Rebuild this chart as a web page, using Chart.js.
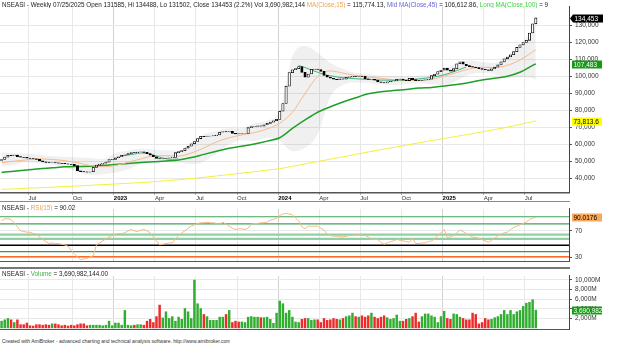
<!DOCTYPE html>
<html>
<head>
<meta charset="utf-8">
<title>NSEASI Weekly</title>
<script src="https://cdn.jsdelivr.net/npm/chart.js@4.4.1/dist/chart.umd.min.js"></script>
<style>
  body { margin: 0; background: #fff; width: 641px; height: 352px; overflow: hidden; position: relative;
         font-family: "Liberation Sans", Arial, sans-serif; }
  canvas { position: absolute; left: 0; }
  .ttl { position: absolute; left: 2px; font-size: 6.3px; line-height: 7px; color: #222; white-space: nowrap; overflow: hidden; }
  .rule { position: absolute; left: 0; width: 570px; height: 1px; background: #8a8a8a; }
</style>
</head>
<body>
<canvas id="priceChart" width="641" height="202" style="top:0"></canvas>
<canvas id="rsiChart" width="641" height="66" style="top:202px"></canvas>
<canvas id="volumeChart" width="641" height="67" style="top:269px"></canvas>

<div class="rule" style="top:201px"></div>
<div class="rule" style="top:267px;height:2px;background:#777"></div>

<div class="ttl" style="top:1px;width:565px">NSEASI - Weekly 07/25/2025 Open 131585, Hi 134488, Lo 131502, Close 134453 (2.2%) Vol 3,690,982,144 <span style="color:#f0a050">MA(Close,15)</span> = 115,774.13, <span style="color:#6464e0">Mid MA(Close,45)</span> = 106,612.86, <span style="color:#44d044">Long MA(Close,100)</span> = 9</div>
<div class="ttl" style="top:203.5px">NSEASI - <span style="color:#f0a050">RSI(15)</span> = 90.02</div>
<div class="ttl" style="top:270px">NSEASI - <span style="color:#3cb043">Volume</span> = 3,690,982,144.00</div>
<div class="ttl" style="top:337.5px;font-size:5px;color:#333">Created with AmiBroker - advanced charting and technical analysis software. http://www.amibroker.com</div>

<script>
// ---- data (weekly bars, 29 Apr 2022 .. 25 Jul 2025) ----
const quarterWeeks = [9, 23, 36, 49, 62, 75, 88, 101, 114, 127, 140, 153, 166];
const quarterLabels = ['Jul', 'Oct', '2023', 'Apr', 'Jul', 'Oct', '2024', 'Apr', 'Jul', 'Oct', '2025', 'Apr', 'Jul'];
const priceTicks = [40000, 50000, 60000, 70000, 80000, 90000, 100000, 110000, 120000, 130000];
const rsiTicks = [70, 30];
const volumeTicks = [2000, 4000, 6000, 8000, 10000];

const firstOpen = 50600;
const closes = [
  51200, 52600, 53600, 53400, 53800, 52900, 52500, 52400, 52000, 51800,
  51600, 51300, 50400, 49800, 49400, 49300, 49400, 49200, 49000, 48900,
  48700, 48400, 48300, 47600, 44500, 44100, 43900, 43800, 44000, 46600,
  47900, 48500, 49000, 49600, 51100, 51300, 52200, 52800, 53600, 54000,
  54600, 55300, 55200, 55600, 55700, 55400, 54600, 53800, 52800, 51800,
  51500, 51800, 52000, 52200, 52400, 55200, 55800, 56400, 57900, 59000,
  60400, 61800, 63500, 64800, 64600, 64900, 65000, 65200, 65600, 67200,
  67600, 67400, 67800, 66600, 66300, 66200, 66400, 66500, 69900, 70500,
  70600, 71000, 70800, 71600, 72400, 73200, 74000, 74800, 79600, 84100,
  94300, 102300, 104000, 104600, 105800, 102400, 99600, 101500, 104200, 104400,
  104100, 103000, 100700, 99600, 99000, 98500, 98200, 98600, 98400, 99500,
  99800, 100100, 100000, 100300, 100100, 98600, 98300, 98400, 97900, 96800,
  96500, 96200, 96900, 97200, 97400, 98300, 98500, 97800, 97600, 98900,
  98200, 97600, 97500, 97800, 98000, 98400, 100500, 101400, 102900, 103800,
  104900, 103800, 103200, 104600, 107500, 108600, 107200, 106400, 105800, 105500,
  105200, 104600, 104200, 104000, 103600, 104500, 105500, 106800, 108600, 110400,
  111500, 112800, 114600, 117100, 118600, 120000, 121300, 125600, 131000, 134453
];

// smooth overlays, read every 4 weeks
const lineWeeks = [0, 4, 8, 12, 16, 20, 24, 28, 32, 36, 40, 44, 48, 52, 56, 60, 64, 68, 72, 76, 80, 84,
  88, 92, 96, 100, 104, 108, 112, 116, 120, 124, 128, 132, 136, 140, 144, 148, 152, 156, 160, 164, 168, 169];
const ma15 = [49300, 50200, 51000, 51600, 51200, 50500, 49300, 47600, 46900, 47600, 49600, 51500, 53200, 53400,
  53200, 55000, 58000, 61500, 64000, 65600, 67000, 69200, 72500, 79000, 90000, 100000, 103300, 102000, 100600,
  99600, 99000, 98000, 97600, 97800, 98400, 100200, 102300, 104500, 105400, 105300, 106600, 109700, 114500, 115774];
const greenMa = [43600, 44300, 45000, 45800, 46300, 46900, 47100, 47200, 47700, 48300, 48800, 49400, 49900, 50300,
  50900, 52300, 54200, 56000, 57800, 59000, 60300, 62000, 64000, 69500, 74500, 79000, 82200, 85000, 87500,
  89800, 91000, 91800, 92400, 93200, 93600, 94400, 95300, 96500, 97900, 99000, 100200, 102500, 106500, 107483];
const yellowMa = [33600, 33900, 34300, 34600, 34900, 35300, 35600, 36000, 36400, 36800, 37200, 37600, 38100, 38700,
  39300, 40000, 40700, 41500, 42300, 43200, 44000, 44900, 45800, 47200, 48600, 50000, 51400, 52800, 54200,
  55600, 57000, 58300, 59600, 61000, 62300, 63600, 64800, 66100, 67400, 68800, 70200, 71800, 73500, 73814];
const bandUpper = [55500, 55000, 54500, 54000, 53200, 52800, 52500, 52000, 51500, 55000, 56500, 57500, 57000, 56500,
  56500, 61000, 66000, 68000, 69500, 69500, 72500, 74000, 80000, 112000, 118000, 114000, 108000, 104500, 102000,
  101500, 100500, 100500, 100000, 100500, 101000, 104000, 108000, 109500, 108500, 108000, 112000, 118000, 128000, 131000];
const bandLower = [47000, 48000, 49500, 49000, 48000, 46500, 44000, 42000, 42500, 43500, 45500, 48500, 50500, 50000,
  49500, 48500, 50000, 55000, 60000, 62500, 62000, 64000, 62000, 56000, 58000, 66000, 88000, 95000, 96500,
  96000, 95500, 95000, 95500, 96000, 95500, 95000, 97500, 101000, 102000, 101500, 99000, 99500, 99000, 98000];

const tealWeeks = [38, 40, 42, 44, 46, 48, 50, 52, 54, 56, 75, 94, 96, 98, 100, 102, 104, 108, 112, 116, 120, 124, 128, 132, 136, 140, 144, 147];
const tealValues = [53200, 53800, 54400, 55000, 54800, 53800, 52600, 51600, 51300, 51500, null, 106500, 105300, 103800,
  102500, 101200, 100400, 99300, 98700, 98300, 97900, 97800, 98000, 98600, 99500, 101000, 103500, 105600];

const rsi = [
  85, 88, 88, 87, 82, 76, 70, 69, 68, 68,
  66, 65, 61, 57, 54, 51, 52, 51, 51, 50,
  49, 47, 41, 36, 31, 27, 28, 29, 31, 33,
  49, 52, 55, 58, 61, 63, 65, 66, 66, 67,
  70, 72, 70, 69, 71, 72, 70, 67, 61, 55,
  49, 50, 51, 52, 52, 58, 63, 67, 70, 74,
  77, 79, 81, 82, 82, 83, 82, 82, 81, 80,
  83, 80, 77, 74, 72, 73, 73, 72, 74, 80,
  81, 81, 82, 82, 83, 86, 87, 89, 93, 95,
  96, 95, 94, 89, 85, 76, 73, 77, 77, 77,
  77, 74, 71, 65, 63, 62, 62, 61, 61, 62,
  63, 63, 64, 64, 63, 63, 61, 57, 57, 57,
  53, 50, 52, 54, 55, 57, 56, 55, 54, 53,
  59, 51, 51, 52, 52, 54, 55, 58, 63, 67,
  72, 60, 61, 63, 67, 71, 69, 66, 63, 61,
  60, 59, 57, 55, 53, 56, 59, 63, 65, 67,
  68, 72, 75, 77, 79, 81, 83, 87, 89, 90.02
];
const rsiLevels = [91, 80.3, 64.4, 58, 48.4, 38.9, 31.2];

// volume in millions of shares
const volumeM = [
  1400, 1680, 1960, 1680, 1120, 1680, 670, 670, 1010, 450,
  390, 670, 670, 560, 670, 560, 840, 840, 670, 450,
  560, 390, 560, 450, 670, 840, 840, 450, 560, 560,
  560, 560, 450, 560, 1400, 450, 1010, 1010, 560, 3640,
  560, 450, 560, 670, 670, 560, 1400, 1790, 1120, 2350,
  4760, 2070, 3360, 1960, 2350, 1400, 2240, 1790, 4030, 3360,
  1960, 9970, 5040, 4030, 2800, 2350, 1570, 1570, 1570, 2240,
  2240, 2800, 3640, 1120, 1400, 1230, 1230, 1120, 2240, 2350,
  2240, 2240, 2130, 2130, 2240, 1790, 950, 3080, 5600, 5040,
  3080, 3640, 2240, 1230, 1120, 1790, 1960, 1960, 1570, 1680,
  1680, 1120, 1960, 1570, 1680, 1960, 1790, 1680, 1960, 2350,
  2520, 3080, 2350, 2240, 2520, 2240, 2520, 3080, 2240, 1960,
  2240, 2520, 2130, 1790, 1960, 2690, 1400, 1400, 1790, 1960,
  2350, 3080, 1230, 2350, 2910, 2910, 2520, 2240, 1120, 2350,
  3470, 1960, 1790, 2910, 2800, 2240, 1960, 1680, 1680, 3080,
  2800, 840, 1120, 1960, 1680, 1790, 2130, 2350, 2800, 3640,
  2800, 3640, 2800, 3360, 3640, 4480, 5150, 5320, 5880, 3691
];

// ---- helpers ----
const FONT = '"Liberation Sans", Arial, sans-serif';
const isYear = i => /^\d{4}$/.test(quarterLabels[i] || '');
const opens = closes.map((c, i) => (i ? closes[i - 1] : firstOpen));
const pts = (weeks, vals) => weeks.map((w, k) => ({ x: w, y: vals[k] }));

function weekAxis(showLabels) {
  return {
    type: 'linear', min: -0.5, max: 179.5, offset: false,
    afterBuildTicks: s => { s.ticks = quarterWeeks.map(w => ({ value: w - 0.5 })); },
    afterFit: s => { s.height = showLabels ? 9.5 : 0; },
    grid: {
      offset: false,
      color: c => (isYear(c.index) ? '#d2d2d2' : '#e8e8e8'),
      drawTicks: showLabels, tickLength: 2, tickColor: '#666'
    },
    border: { display: true, color: '#555', width: showLabels ? 1.5 : 1 },
    ticks: {
      display: showLabels, autoSkip: false, maxRotation: 0, minRotation: 0, align: 'start', padding: 0,
      callback: (v, i) => quarterLabels[i],
      font: c => ({ family: FONT, size: 6, weight: isYear(c.index) ? 'bold' : 'normal' }),
      color: c => (isYear(c.index) ? '#000' : '#333')
    }
  };
}

function valueAxis(min, max, ticks, fmt) {
  return {
    position: 'right', min: min, max: max,
    afterBuildTicks: s => { s.ticks = ticks.map(v => ({ value: v })); },
    afterFit: s => { s.width = 72; },
    grid: { color: '#e8e8e8', tickLength: 3, tickColor: '#555' },
    border: { display: true, color: '#444', width: 1 },
    ticks: { font: { family: FONT, size: 6.5 }, color: '#333', padding: 3, callback: fmt }
  };
}

// value tags on the right axis
const badgePlugin = {
  id: 'badges',
  afterDraw(chart, args, opts) {
    const ctx = chart.ctx, y = chart.scales.y, right = chart.chartArea.right;
    ctx.save();
    ctx.font = '6.5px ' + FONT;
    ctx.textBaseline = 'middle';
    (opts.items || []).forEach(b => {
      const py = Math.round(y.getPixelForValue(b.value)) + 0.5;
      const x0 = right + (b.pointer ? 4 : 3), w = 30, h = 8;
      ctx.fillStyle = b.bg;
      ctx.beginPath();
      if (b.pointer) {
        ctx.moveTo(right + 1, py);
        ctx.lineTo(x0, py - h / 2);
        ctx.lineTo(x0, py + h / 2);
        ctx.closePath();
      }
      ctx.rect(x0, py - h / 2, w, h);
      ctx.fill();
      ctx.fillStyle = b.fg;
      ctx.fillText(b.text, x0 + 1.5, py + 0.5);
    });
    ctx.restore();
  }
};

// horizontal reference levels in the RSI pane
const levelPlugin = {
  id: 'levels',
  beforeDatasetsDraw(chart, args, opts) {
    const ctx = chart.ctx, y = chart.scales.y, a = chart.chartArea;
    ctx.save();
    (opts.levels || []).forEach((v, k) => {
      const st = opts.styles[k];
      const py = y.getPixelForValue(v);
      ctx.strokeStyle = st.color;
      ctx.lineWidth = st.width;
      ctx.beginPath();
      ctx.moveTo(a.left, py);
      ctx.lineTo(a.right, py);
      ctx.stroke();
    });
    ctx.restore();
  }
};

const common = {
  responsive: false, animation: false, events: [],
  layout: { padding: 0 },
  plugins: { legend: { display: false }, tooltip: { enabled: false } }
};

// ---- price pane ----
new Chart(document.getElementById('priceChart'), {
  type: 'bar',
  data: {
    datasets: [
      {
        type: 'line', data: pts(lineWeeks, bandUpper), borderWidth: 0, pointRadius: 0,
        fill: '+1', backgroundColor: 'rgba(0,0,0,0.06)', cubicInterpolationMode: 'monotone', order: 10
      },
      {
        type: 'line', data: pts(lineWeeks, bandLower), borderWidth: 0, pointRadius: 0,
        fill: false, cubicInterpolationMode: 'monotone', order: 10
      },
      {
        type: 'line', data: pts(lineWeeks, yellowMa), borderColor: '#f2f03c', borderWidth: 1,
        pointRadius: 0, cubicInterpolationMode: 'monotone', order: 5
      },
      {
        type: 'line', data: pts(lineWeeks, greenMa), borderColor: '#1f9e2a', borderWidth: 1.5,
        pointRadius: 0, cubicInterpolationMode: 'monotone', order: 5
      },
      {
        type: 'line', data: pts(lineWeeks, ma15), borderColor: '#f6b98c', borderWidth: 1,
        pointRadius: 0, cubicInterpolationMode: 'monotone', order: 4
      },
      {
        type: 'line', data: pts(tealWeeks, tealValues), borderColor: '#3fb37f', borderWidth: 1,
        pointRadius: 0, spanGaps: false, cubicInterpolationMode: 'monotone', order: 3
      },
      {
        type: 'bar',
        data: closes.map((c, i) => ({ x: i, y: [opens[i], c] })),
        backgroundColor: closes.map((c, i) => (c >= opens[i] ? '#ffffff' : '#000000')),
        borderColor: '#000', borderWidth: 0.8, borderSkipped: false, barThickness: 2.4, order: 1
      }
    ]
  },
  options: {
    ...common,
    plugins: {
      ...common.plugins,
      badges: {
        items: [
          { value: closes[closes.length - 1], text: '134,453', bg: '#000', fg: '#fff', pointer: true },
          { value: greenMa[greenMa.length - 1], text: '107,483', bg: '#169b16', fg: '#fff' },
          { value: yellowMa[yellowMa.length - 1], text: '73,813.6', bg: '#ffff00', fg: '#000' }
        ]
      }
    },
    scales: {
      x: weekAxis(true),
      y: valueAxis(31775, 140947, priceTicks, v => v.toLocaleString('en-US'))
    }
  },
  plugins: [badgePlugin]
});

// ---- RSI pane ----
new Chart(document.getElementById('rsiChart'), {
  type: 'line',
  data: {
    datasets: [{
      data: rsi.map((v, i) => ({ x: i, y: v })),
      borderColor: '#f7b87e', borderWidth: 1, pointRadius: 0, tension: 0
    }]
  },
  options: {
    ...common,
    plugins: {
      ...common.plugins,
      levels: {
        levels: rsiLevels,
        styles: [
          { color: '#3ea35a', width: 1.2 }, { color: '#3ea35a', width: 1.2 },
          { color: '#8fd0a2', width: 2.2 }, { color: '#8fd0a2', width: 2.2 },
          { color: '#000000', width: 1.5 }, { color: '#2e9e4e', width: 1.2 },
          { color: '#ff6a2a', width: 1.5 }
        ]
      },
      badges: { items: [{ value: rsi[rsi.length - 1], text: '90.0176', bg: '#f7a95c', fg: '#000' }] }
    },
    scales: {
      x: weekAxis(false),
      y: valueAxis(24.9, 102.7, rsiTicks, v => String(v))
    }
  },
  plugins: [levelPlugin, badgePlugin]
});

// ---- volume pane ----
new Chart(document.getElementById('volumeChart'), {
  type: 'bar',
  data: {
    datasets: [{
      data: volumeM.map((v, i) => ({ x: i, y: v })),
      backgroundColor: closes.map((c, i) => (c >= opens[i] ? '#2fae2f' : '#ee2a2a')),
      barThickness: 1.8, borderWidth: 0
    }]
  },
  options: {
    ...common,
    plugins: {
      ...common.plugins,
      badges: { items: [{ value: volumeM[volumeM.length - 1], text: '3,690,982', bg: '#169b16', fg: '#fff' }] }
    },
    scales: {
      x: weekAxis(false),
      y: valueAxis(-252, 10840, volumeTicks, v => v.toLocaleString('en-US') + 'M')
    }
  },
  plugins: [badgePlugin]
});
</script>
</body>
</html>
